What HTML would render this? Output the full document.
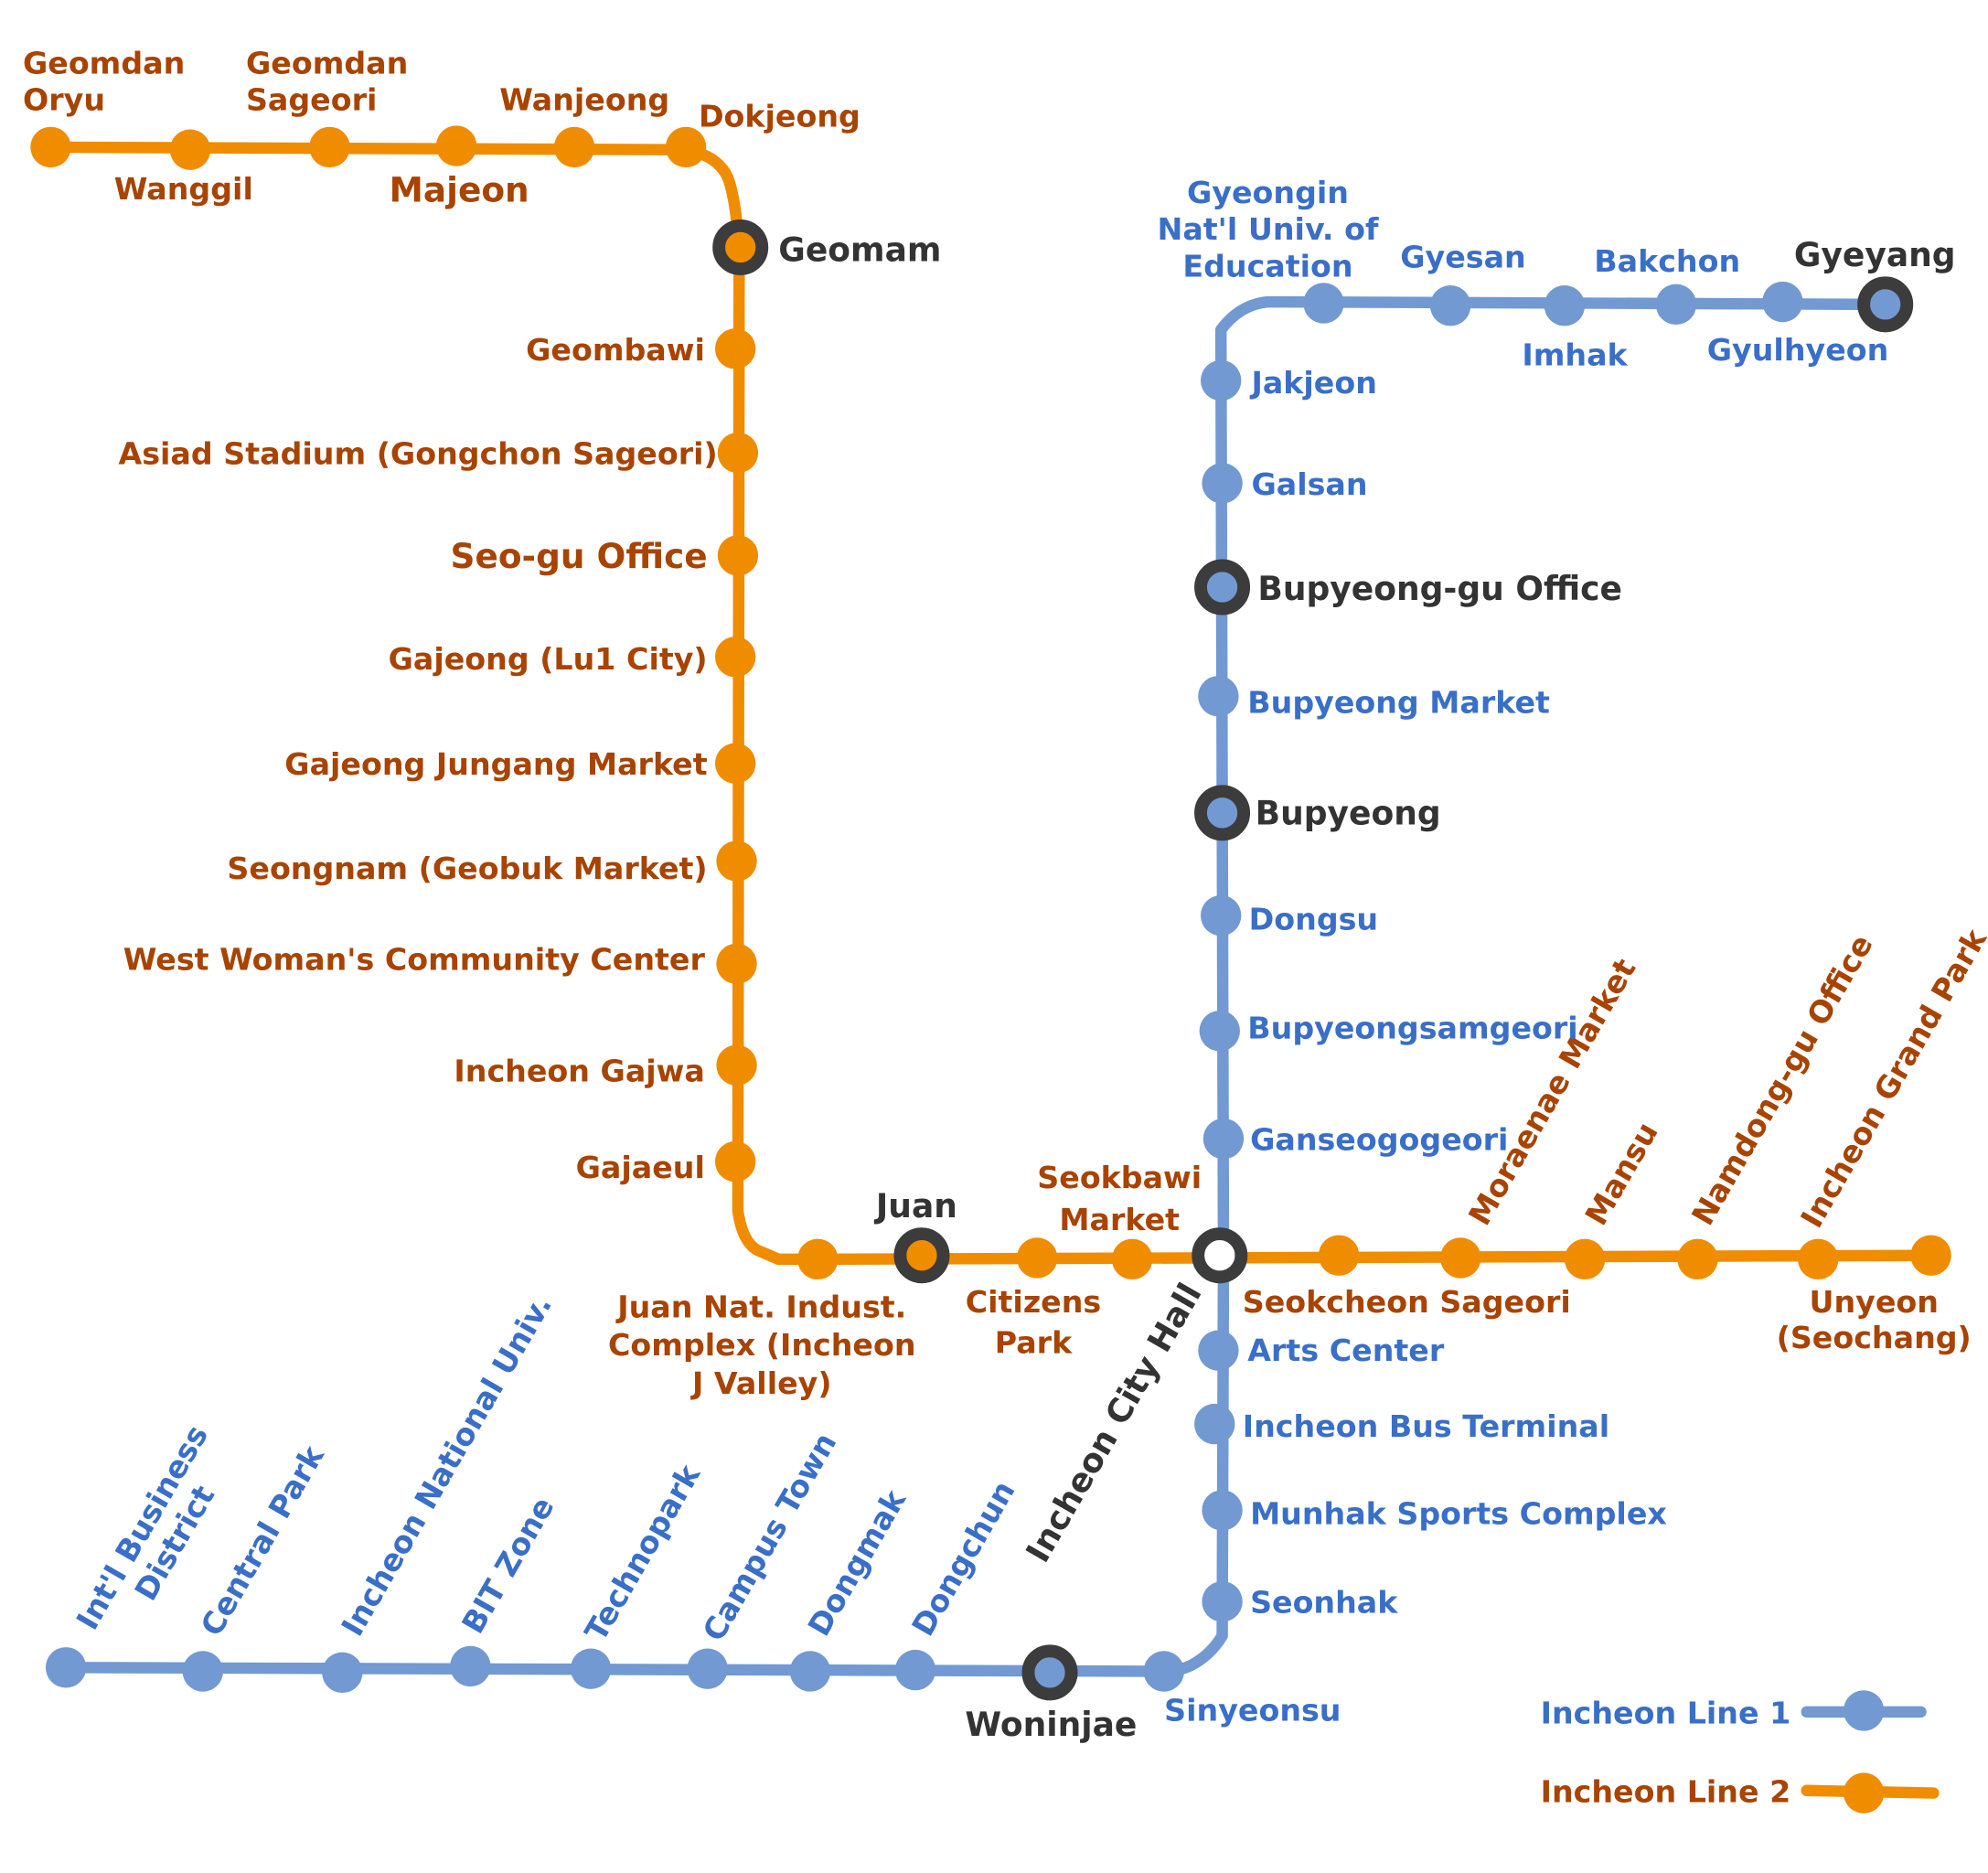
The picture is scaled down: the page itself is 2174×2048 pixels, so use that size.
<!DOCTYPE html>
<html><head><meta charset="utf-8"><style>html,body{margin:0;padding:0;background:#fff}svg{display:block}text{font-family:"DejaVu Sans","Liberation Sans",sans-serif;font-weight:bold}</style></head>
<body>
<svg width="2174" height="2048" viewBox="0 0 1568 1477" xmlns="http://www.w3.org/2000/svg">
<g fill="none" stroke-width="9" stroke-linejoin="round" stroke-linecap="round">
<path stroke="#F08C00" d="M40,116 L540,118 Q566,122 574,140 Q580,155 583,195 L582,955 Q586,982 600,987 L614,993 L645,993 L1523,990"/>
<path stroke="#7299D1" d="M1487,240 L1000,238 Q978,240 963,260 L965,990 L964,1290 Q955,1305 940,1313 Q930,1318 918,1318 L52,1315"/>
<path stroke="#7299D1" d="M1425,1350 L1515,1350"/>
<path stroke="#F08C00" d="M1425,1412 L1525,1414"/>
</g>
<g fill="#F08C00">
<circle cx="40" cy="116" r="16"/><circle cx="150" cy="118" r="16"/><circle cx="260" cy="116" r="16"/><circle cx="360" cy="115" r="16"/><circle cx="453" cy="116" r="16"/><circle cx="541" cy="116" r="16"/>
<circle cx="580" cy="275" r="16"/><circle cx="582" cy="357" r="16"/><circle cx="582" cy="438" r="16"/><circle cx="580" cy="518" r="16"/><circle cx="580" cy="602" r="16"/><circle cx="581" cy="679" r="16"/><circle cx="581" cy="760" r="16"/><circle cx="581" cy="840" r="16"/><circle cx="580" cy="916" r="16"/>
<circle cx="645" cy="993" r="16"/><circle cx="818" cy="992" r="16"/><circle cx="893" cy="993" r="16"/><circle cx="1056" cy="990" r="16"/><circle cx="1152" cy="992" r="16"/><circle cx="1250" cy="993" r="16"/><circle cx="1339" cy="993" r="16"/><circle cx="1434" cy="993" r="16"/><circle cx="1523" cy="990" r="16"/>
<circle cx="1470" cy="1414" r="16"/>
</g>
<g fill="#7299D1">
<circle cx="1406" cy="238" r="16"/><circle cx="1322" cy="240" r="16"/><circle cx="1234" cy="241" r="16"/><circle cx="1144" cy="241" r="16"/><circle cx="1044" cy="239" r="16"/>
<circle cx="963" cy="300" r="16"/><circle cx="964" cy="381" r="16"/><circle cx="961" cy="549" r="16"/><circle cx="963" cy="722" r="16"/><circle cx="962" cy="813" r="16"/><circle cx="965" cy="898" r="16"/>
<circle cx="961" cy="1065" r="16"/><circle cx="958" cy="1123" r="16"/><circle cx="964" cy="1191" r="16"/><circle cx="964" cy="1263" r="16"/>
<circle cx="918" cy="1318" r="16"/><circle cx="722" cy="1317" r="16"/><circle cx="639" cy="1318" r="16"/><circle cx="558" cy="1316" r="16"/><circle cx="466" cy="1316" r="16"/><circle cx="371" cy="1314" r="16"/><circle cx="270" cy="1319" r="16"/><circle cx="160" cy="1318" r="16"/><circle cx="52" cy="1315" r="16"/>
<circle cx="1470" cy="1349" r="16"/>
</g>
<g stroke="#3c3c3c" stroke-width="10">
<circle cx="584" cy="195" r="17" fill="#F08C00"/><circle cx="727" cy="990" r="17" fill="#F08C00"/>
<circle cx="1487" cy="240" r="17" fill="#7299D1"/><circle cx="964" cy="463" r="17" fill="#7299D1"/><circle cx="964" cy="641" r="17" fill="#7299D1"/><circle cx="828" cy="1319" r="17" fill="#7299D1"/>
<circle cx="962" cy="990" r="17" fill="#fff"/>
</g>
<g fill="#A84300" font-size="24">
<text x="18" y="58">Geomdan</text><text x="18" y="87">Oryu</text>
<text x="90" y="157">Wanggil</text>
<text x="194" y="58">Geomdan</text><text x="194" y="87">Sageori</text>
<text x="307" y="159" font-size="27">Majeon</text>
<text x="394" y="87">Wanjeong</text>
<text x="551" y="100">Dokjeong</text>
<g text-anchor="end">
<text x="556" y="284">Geombawi</text>
<text x="566" y="366">Asiad Stadium (Gongchon Sageori)</text>
<text x="558" y="448" font-size="27">Seo-gu Office</text>
<text x="558" y="528">Gajeong (Lu1 City)</text>
<text x="558" y="611">Gajeong Jungang Market</text>
<text x="558" y="693">Seongnam (Geobuk Market)</text>
<text x="556" y="765">West Woman's Community Center</text>
<text x="556" y="853">Incheon Gajwa</text>
<text x="556" y="929">Gajaeul</text>
</g>
<g text-anchor="middle">
<text x="601" y="1039">Juan Nat. Indust.</text><text x="601" y="1069">Complex (Incheon</text><text x="601" y="1099">J Valley)</text>
<text x="815" y="1035">Citizens</text><text x="815" y="1067">Park</text>
<text x="883" y="937">Seokbawi</text><text x="883" y="970">Market</text>
<text x="1478" y="1035">Unyeon</text><text x="1478" y="1063">(Seochang)</text>
</g>
<text x="980" y="1035">Seokcheon Sageori</text>
<text transform="translate(1172,968) rotate(-60)">Moraenae Market</text>
<text transform="translate(1264,968) rotate(-60)">Mansu</text>
<text transform="translate(1348,968) rotate(-60)">Namdong-gu Office</text>
<text transform="translate(1434,970) rotate(-60)">Incheon Grand Park</text>
<text x="1215" y="1421">Incheon Line 2</text>
</g>
<g fill="#3A6FC8" font-size="24">
<g text-anchor="middle">
<text x="1000" y="160">Gyeongin</text><text x="1000" y="189">Nat'l Univ. of</text><text x="1000" y="218">Education</text>
<text x="1154" y="211">Gyesan</text>
<text x="1242" y="288">Imhak</text>
<text x="1315" y="214">Bakchon</text>
<text x="1418" y="284">Gyulhyeon</text>
<text x="988" y="1357">Sinyeonsu</text>
</g>
<text x="987" y="310">Jakjeon</text>
<text x="987" y="390">Galsan</text>
<text x="984" y="562">Bupyeong Market</text>
<text x="985" y="733">Dongsu</text>
<text x="984" y="819">Bupyeongsamgeori</text>
<text x="986" y="907">Ganseogogeori</text>
<text x="984" y="1073">Arts Center</text>
<text x="980" y="1133">Incheon Bus Terminal</text>
<text x="986" y="1202">Munhak Sports Complex</text>
<text x="986" y="1272">Seonhak</text>
<text transform="translate(74,1287) rotate(-60)">Int'l Business</text>
<text transform="translate(120,1264) rotate(-60)">District</text>
<text transform="translate(172,1292) rotate(-60)">Central Park</text>
<text transform="translate(283,1292) rotate(-60)">Incheon National Univ.</text>
<text transform="translate(378,1290) rotate(-60)">BIT Zone</text>
<text transform="translate(475,1296) rotate(-60)">Technopark</text>
<text transform="translate(568,1296) rotate(-60)">Campus Town</text>
<text transform="translate(651,1292) rotate(-60)">Dongmak</text>
<text transform="translate(733,1292) rotate(-60)">Dongchun</text>
<text x="1215" y="1359">Incheon Line 1</text>
</g>
<g fill="#333" font-size="26">
<text x="614" y="206">Geomam</text>
<text x="1415" y="210">Gyeyang</text>
<text x="992" y="473">Bupyeong-gu Office</text>
<text x="990" y="650">Bupyeong</text>
<text x="723" y="960" text-anchor="middle">Juan</text>
<text x="829" y="1369" text-anchor="middle">Woninjae</text>
<text transform="translate(824,1234) rotate(-60)">Incheon City Hall</text>
</g>
</svg>
</body></html>
